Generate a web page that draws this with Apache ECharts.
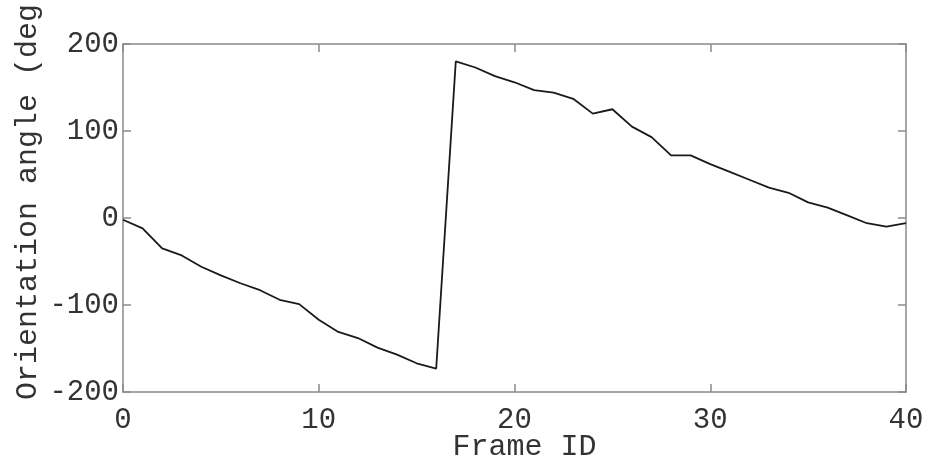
<!DOCTYPE html>
<html>
<head>
<meta charset="utf-8">
<script src="https://cdn.jsdelivr.net/npm/echarts@6/dist/echarts.min.js"></script>
<style>
  html, body { margin: 0; padding: 0; background: #fff; }
  #main { width: 927px; height: 459px; }
</style>
</head>
<body>
<div id="main"></div>
<script>
// 数据：帧编号与方向角（度）
const frameIds = [0, 1, 2, 3, 4, 5, 6, 7, 8, 9, 10, 11, 12, 13, 14, 15, 16, 17, 18, 19, 20,
  21, 22, 23, 24, 25, 26, 27, 28, 29, 30, 31, 32, 33, 34, 35, 36, 37, 38, 39, 40]
const angles = [-2, -12, -35, -43, -56, -66, -75, -83, -94, -99, -117, -131, -138, -149, -157, -167, -173,
  180, 173, 163, 156, 147, 144, 137, 120, 125, 105, 93, 72, 72, 62, 53, 44, 35, 29, 18, 12, 3, -6, -10, -6]
const xTicks = [0, 10, 20, 30, 40]
const yTicks = [-200, -100, 0, 100, 200]

const font = 'Liberation Mono, Courier New, monospace'
const axisGrey = '#8a8a8a'
const textColor = '#333'

const chart = echarts.init(document.getElementById('main'))

const baseAxis = {
  axisLine: { show: true, onZero: false, lineStyle: { color: axisGrey, width: 1.5 } },
  axisTick: { show: true, inside: true, length: 8, lineStyle: { color: axisGrey, width: 1.5 } },
  splitLine: { show: false }
}

chart.setOption({
  animation: false,
  backgroundColor: '#fff',
  grid: { left: 123, right: 21, top: 44, bottom: 67, containLabel: false, outerBoundsMode: 'none' },
  xAxis: [
    Object.assign({}, baseAxis, {
      type: 'value', min: 0, max: 40, interval: 10,
      name: 'Frame ID', nameLocation: 'middle', nameGap: 40, nameMoveOverlap: false,
      nameTextStyle: { fontFamily: font, fontSize: 30, color: textColor, padding: [0, 0, 0, 20] },
      axisLabel: {
        fontFamily: font, fontSize: 29, color: textColor, margin: 14,
        formatter: v => xTicks.includes(v) ? String(v) : ''
      }
    }),
    Object.assign({}, baseAxis, {
      type: 'value', min: 0, max: 40, interval: 10, position: 'top',
      axisLabel: { show: false }
    })
  ],
  yAxis: [
    Object.assign({}, baseAxis, {
      type: 'value', min: -200, max: 200, interval: 100,
      name: 'Orientation angle (deg)', nameLocation: 'middle', nameGap: 80, nameMoveOverlap: false,
      nameTextStyle: { fontFamily: font, fontSize: 30, color: textColor, padding: [0, 0, 0, 50] },
      axisLabel: {
        fontFamily: font, fontSize: 29, color: textColor, margin: 4,
        formatter: v => yTicks.includes(v) ? String(v) : ''
      }
    }),
    Object.assign({}, baseAxis, {
      type: 'value', min: -200, max: 200, interval: 100, position: 'right',
      axisLabel: { show: false }
    })
  ],
  series: [{
    type: 'line',
    data: frameIds.map((f, i) => [f, angles[i]]),
    showSymbol: false,
    lineStyle: { color: '#1a1a1a', width: 1.8 }
  }]
})
</script>
</body>
</html>
